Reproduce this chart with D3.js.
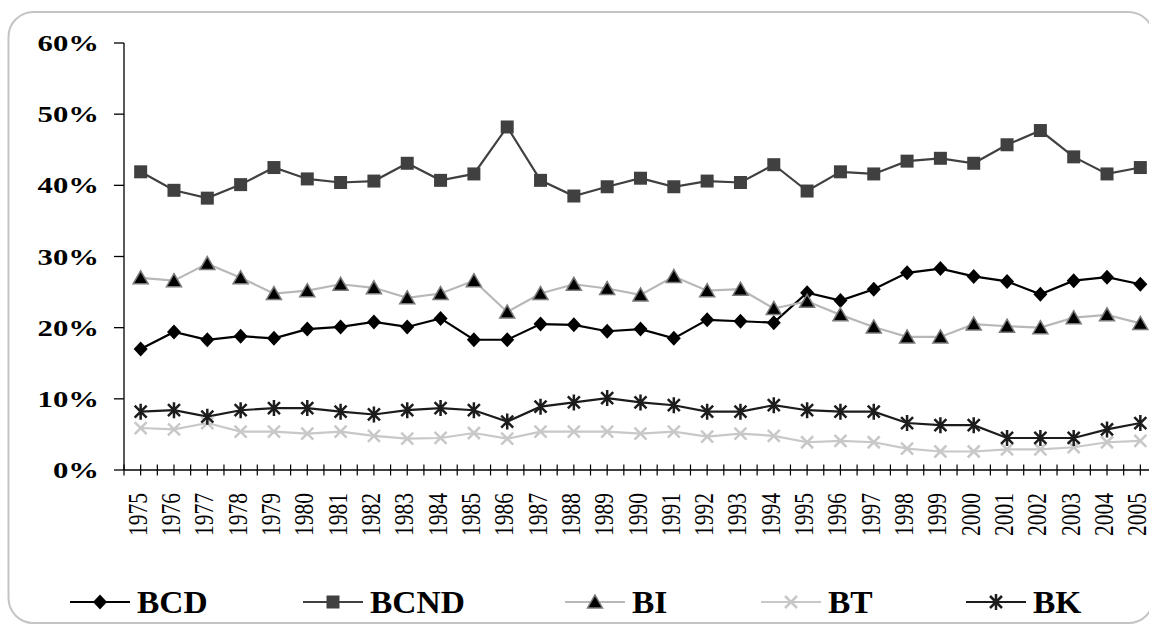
<!DOCTYPE html>
<html>
<head>
<meta charset="utf-8">
<script src="https://cdn.jsdelivr.net/npm/d3@7"></script>
<style>
  body { margin: 0; background: #fff; }
  svg { display: block; }
</style>
</head>
<body>
<div id="svgContainer"></div>
<script>
const years = d3.range(1975, 2006).map(String);

const bcd = [17.0, 19.4, 18.3, 18.8, 18.5, 19.8, 20.1, 20.8, 20.1, 21.3, 18.3, 18.3, 20.5, 20.4, 19.5, 19.8,
  18.5, 21.1, 20.9, 20.7, 24.9, 23.8, 25.4, 27.7, 28.3, 27.2, 26.5, 24.7, 26.6, 27.1, 26.1];
const bcnd = [41.9, 39.3, 38.2, 40.1, 42.5, 40.9, 40.4, 40.6, 43.1, 40.7, 41.6, 48.2, 40.7, 38.5, 39.8, 41.0,
  39.8, 40.6, 40.4, 42.9, 39.2, 41.9, 41.6, 43.4, 43.8, 43.1, 45.7, 47.7, 44.0, 41.6, 42.5];
const bi = [27.0, 26.6, 29.0, 27.0, 24.8, 25.2, 26.1, 25.6, 24.2, 24.8, 26.6, 22.2, 24.8, 26.1, 25.5, 24.6,
  27.2, 25.2, 25.4, 22.7, 23.7, 21.8, 20.1, 18.7, 18.7, 20.5, 20.2, 20.0, 21.4, 21.8, 20.6];
const bt = [5.9, 5.7, 6.6, 5.4, 5.4, 5.1, 5.4, 4.8, 4.4, 4.5, 5.2, 4.4, 5.4, 5.4, 5.4, 5.1,
  5.4, 4.7, 5.1, 4.8, 3.9, 4.1, 3.9, 3.0, 2.6, 2.6, 2.9, 2.9, 3.2, 3.9, 4.1];
const bk = [8.2, 8.4, 7.5, 8.4, 8.7, 8.7, 8.2, 7.8, 8.4, 8.7, 8.4, 6.8, 8.9, 9.5, 10.1, 9.5,
  9.1, 8.2, 8.2, 9.1, 8.4, 8.2, 8.2, 6.6, 6.3, 6.3, 4.5, 4.5, 4.5, 5.7, 6.6];

const yTicks = [0, 10, 20, 30, 40, 50, 60];

const width = 1149;
const height = 629;
const serif = "'Liberation Serif', 'Times New Roman', serif";

// marker shapes, drawn around (0,0)
const shapes = {
  diamond: "M0,-7.5L7,0L0,7.5L-7,0Z",
  square: "M-6.5,-6.5H6.5V6.5H-6.5Z",
  triangle: "M0,-7L7.5,6L-7.5,6Z",
  cross: "M-6,-6L6,6M-6,6L6,-6",
  star: "M-6,-6L6,6M-6,6L6,-6M0,-8L0,8",
};

const series = [
  { name: "BCD", values: bcd, line: "#000", shape: "diamond", fill: "#000", stroke: "none", sw: 0 },
  { name: "BCND", values: bcnd, line: "#404040", shape: "square", fill: "#404040", stroke: "none", sw: 0 },
  { name: "BI", values: bi, line: "#b8b8b8", shape: "triangle", fill: "#000", stroke: "#7a7a7a", sw: 1.5 },
  { name: "BT", values: bt, line: "#c8c8c8", shape: "cross", fill: "none", stroke: "#c8c8c8", sw: 2.5 },
  { name: "BK", values: bk, line: "#1c1c1c", shape: "star", fill: "none", stroke: "#1c1c1c", sw: 2.5 },
];

const svg = d3.select("#svgContainer")
  .append("svg")
  .attr("width", width)
  .attr("height", height)
  .attr("viewBox", `0 0 ${width} ${height}`);

// rounded chart frame
svg.append("rect")
  .attr("x", 8.5)
  .attr("y", 12)
  .attr("width", 1145)
  .attr("height", 611)
  .attr("rx", 25)
  .attr("fill", "#fff")
  .attr("stroke", "#c4c4c4")
  .attr("stroke-width", 2);

const x = d3.scaleBand().domain(years).range([124, 1157]);
const y = d3.scaleLinear().domain([0, 60]).range([470, 43]);
const cx = (d) => x(d) + x.bandwidth() / 2;

// y axis
svg.append("line")
  .attr("x1", 124).attr("x2", 124)
  .attr("y1", y(60)).attr("y2", y(0))
  .attr("stroke", "#000").attr("stroke-width", 1.3);

svg.selectAll(".ytick")
  .data(yTicks)
  .enter()
  .append("line")
  .attr("x1", 114).attr("x2", 124)
  .attr("y1", (d) => y(d)).attr("y2", (d) => y(d))
  .attr("stroke", "#000").attr("stroke-width", 1.3);

svg.selectAll(".ylabel")
  .data(yTicks)
  .enter()
  .append("text")
  .attr("transform", (d) => `translate(99,${y(d) + 8}) scale(1.28,1)`)
  .attr("text-anchor", "end")
  .attr("font-family", serif)
  .attr("font-weight", "bold")
  .attr("font-size", 24)
  .text((d) => d + "%");

// x axis with crossing ticks at band edges and centres
svg.append("line")
  .attr("x1", 124).attr("x2", 1157)
  .attr("y1", y(0)).attr("y2", y(0))
  .attr("stroke", "#000").attr("stroke-width", 1.3);

const tickPos = [];
years.forEach((d) => { tickPos.push(x(d), cx(d)); });
tickPos.push(x.range()[1]);

svg.selectAll(".xtick")
  .data(tickPos)
  .enter()
  .append("line")
  .attr("x1", (d) => d).attr("x2", (d) => d)
  .attr("y1", y(0) - 5.5).attr("y2", y(0) + 5.5)
  .attr("stroke", "#000").attr("stroke-width", 1.2);

svg.selectAll(".xlabel")
  .data(years)
  .enter()
  .append("text")
  .attr("transform", (d) => `translate(${cx(d) + 6},493) scale(1.25,1) rotate(-90)`)
  .attr("text-anchor", "end")
  .attr("font-family", serif)
  .attr("font-size", 21.5)
  .text((d) => d);

// lines and markers
const line = d3.line()
  .x((d, i) => cx(years[i]))
  .y((d) => y(d));

series.forEach((s) => {
  svg.append("path")
    .datum(s.values)
    .attr("d", line)
    .attr("fill", "none")
    .attr("stroke", s.line)
    .attr("stroke-width", 2.2);
});

series.forEach((s) => {
  svg.append("g")
    .selectAll("path")
    .data(s.values)
    .enter()
    .append("path")
    .attr("transform", (d, i) => `translate(${cx(years[i])},${y(d)})`)
    .attr("d", shapes[s.shape])
    .attr("fill", s.fill)
    .attr("stroke", s.stroke)
    .attr("stroke-width", s.sw);
});

// legend
const legendX = [70, 303, 565, 761, 966];
const legendY = 602;

series.forEach((s, i) => {
  const g = svg.append("g").attr("transform", `translate(${legendX[i]},${legendY})`);
  g.append("line")
    .attr("x1", 0).attr("x2", 60)
    .attr("stroke", s.line).attr("stroke-width", 2.2);
  g.append("path")
    .attr("transform", "translate(30,0)")
    .attr("d", shapes[s.shape])
    .attr("fill", s.fill)
    .attr("stroke", s.stroke)
    .attr("stroke-width", s.sw);
  g.append("text")
    .attr("transform", "translate(67,11) scale(1.08,1)")
    .attr("font-family", serif)
    .attr("font-weight", "bold")
    .attr("font-size", 31)
    .text(s.name);
});
</script>
</body>
</html>
